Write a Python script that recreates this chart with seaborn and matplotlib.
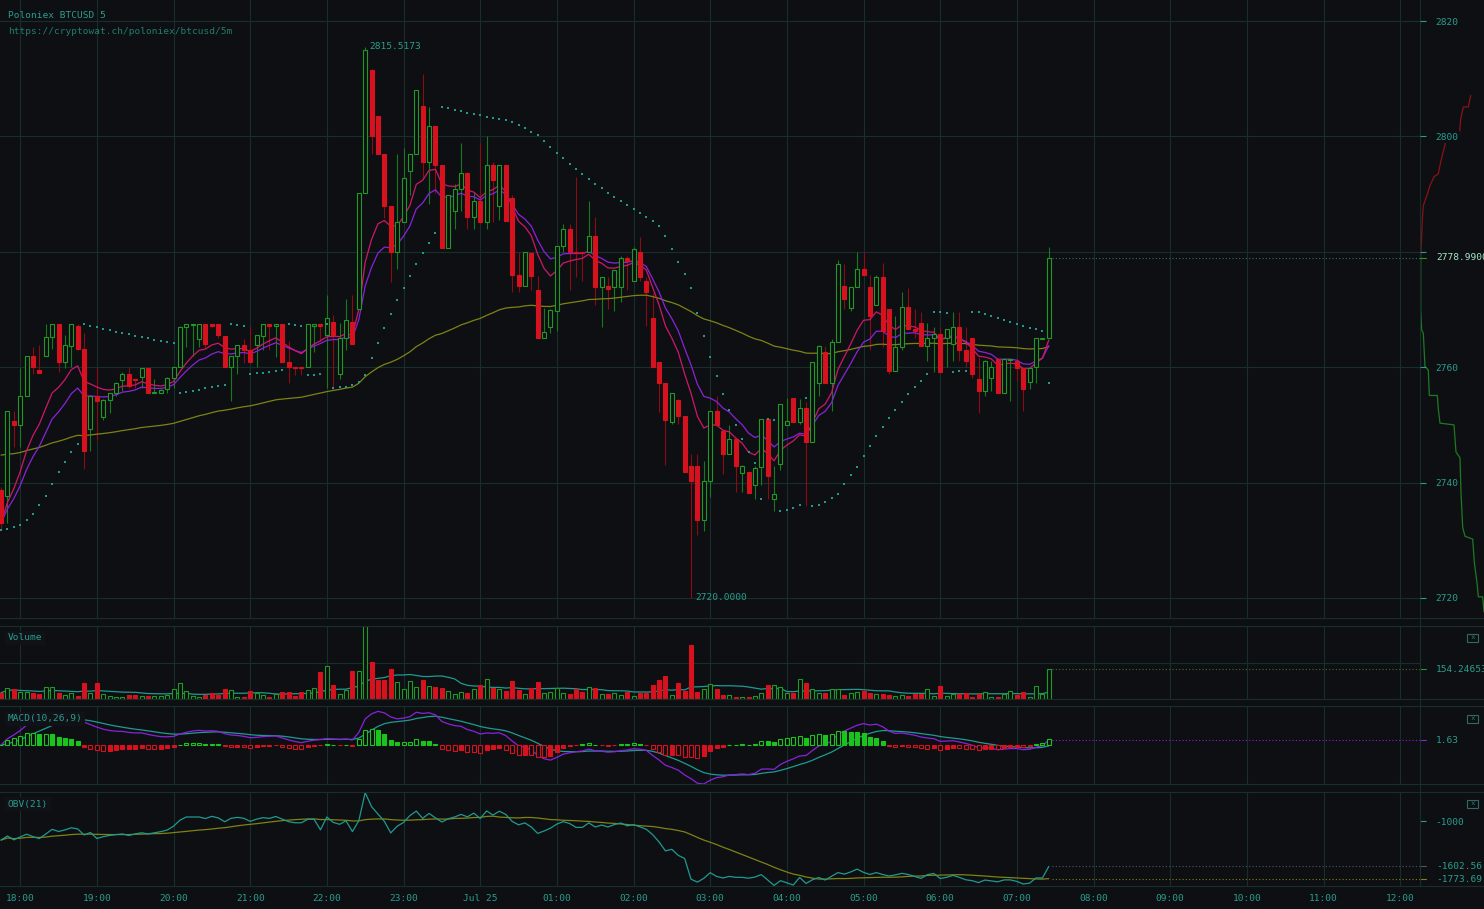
import matplotlib

matplotlib.use("Agg")
import matplotlib.pyplot as plt
import numpy as np
import pandas as pd
import seaborn as sns
from matplotlib.lines import Line2D
from matplotlib.patches import Rectangle

W, H = 1484, 909
BG = "#0e0f13"
GRID = "#15302c"
TEXT = "#2a9d90"
URL_TEXT = "#1f7d70"
GREEN = "#1f9a24"
GREEN_WICK = "#177a1b"
RED = "#d5121e"
RED_WICK = "#8a0d15"
PINK = "#cf176b"
PURPLE = "#8a22dc"
OLIVE = "#7f8214"
TEAL = "#1f9a90"
HIST_GREEN = "#1bc41d"
FS = 6.8

START = "2017-07-24 17:45"

# 5-minute candles, 17:45 -> 07:25
opens = [
    2738.8, 2737.6, 2750.6, 2750.0, 2755.0, 2762.0, 2759.5, 2762.0, 2765.3, 2767.4,
    2760.9, 2763.7, 2767.2, 2763.2, 2749.3, 2755.0, 2751.4, 2754.3, 2755.5, 2757.8,
    2758.9, 2757.9, 2758.3, 2759.9, 2755.5, 2755.6, 2756.2, 2758.1, 2760.0, 2766.9,
    2767.3, 2764.8, 2767.4, 2767.4, 2767.4, 2765.4, 2760.0, 2761.9, 2763.8, 2762.9,
    2763.8, 2765.4, 2767.4, 2767.1, 2767.4, 2760.9, 2760.0, 2760.0, 2760.0, 2767.2,
    2767.4, 2765.5, 2767.9, 2758.9, 2765.1, 2767.9, 2770.0, 2790.2, 2811.5, 2803.5,
    2797.0, 2788.0, 2780.0, 2785.1, 2794.0, 2797.0, 2805.3, 2795.6, 2801.8, 2795.0,
    2780.6, 2787.1, 2790.8, 2793.6, 2786.0, 2788.8, 2785.1, 2795.0, 2788.0, 2795.0,
    2789.4, 2775.9, 2774.1, 2779.8, 2773.4, 2765.1, 2766.9, 2769.7, 2781.0, 2783.9,
    2780.0, 2780.0, 2780.0, 2782.8, 2773.9, 2774.0, 2773.9, 2773.9, 2778.9, 2775.0,
    2780.0, 2775.0, 2768.6, 2760.9, 2757.2, 2750.5, 2754.3, 2751.6, 2742.9, 2742.9,
    2733.6, 2740.3, 2752.4, 2748.9, 2745.0, 2747.5, 2741.7, 2741.9, 2739.6, 2742.7,
    2751.0, 2737.2, 2743.2, 2750.0, 2754.7, 2750.5, 2753.0, 2747.1, 2757.3, 2762.6,
    2757.3, 2764.3, 2774.1, 2770.2, 2773.9, 2777.0, 2773.9, 2770.7, 2775.6, 2770.0,
    2759.4, 2763.5, 2770.5, 2766.7, 2767.7, 2763.6, 2765.1, 2765.7, 2765.1, 2764.0,
    2766.9, 2762.9, 2765.1, 2757.9, 2755.8, 2758.2, 2761.4, 2755.5, 2761.2, 2761.0,
    2759.9, 2757.4, 2760.0, 2764.9, 2765.1,
]
highs = [
    2739.2, 2752.4, 2752.4, 2759.8, 2762.0, 2763.5, 2763.8, 2767.4, 2767.4, 2767.4,
    2765.5, 2767.4, 2767.4, 2766.0, 2755.0, 2760.0, 2754.5, 2755.6, 2757.4, 2759.1,
    2760.0, 2757.9, 2759.9, 2759.9, 2757.9, 2756.2, 2758.3, 2760.0, 2767.2, 2767.4,
    2767.4, 2767.4, 2767.4, 2767.4, 2767.4, 2765.4, 2761.9, 2763.8, 2764.9, 2767.2,
    2765.5, 2767.4, 2767.4, 2767.4, 2767.4, 2764.5, 2760.0, 2760.0, 2767.4, 2767.4,
    2767.4, 2772.5, 2769.0, 2767.6, 2771.8, 2772.5, 2790.2, 2815.5173, 2811.6, 2803.5,
    2797.0, 2788.0, 2796.9, 2798.0, 2797.0, 2808.1, 2810.9, 2805.1, 2801.8, 2795.0,
    2789.8, 2791.7, 2798.8, 2793.6, 2790.2, 2798.9, 2800.0, 2795.5, 2795.0, 2795.0,
    2789.9, 2780.0, 2780.0, 2779.8, 2775.8, 2770.3, 2770.0, 2781.0, 2784.9, 2784.9,
    2793.0, 2780.0, 2788.8, 2786.0, 2775.6, 2775.6, 2776.9, 2779.3, 2779.3, 2780.9,
    2782.6, 2775.6, 2772.8, 2760.9, 2757.2, 2755.6, 2754.5, 2751.6, 2745.0, 2745.0,
    2743.8, 2752.4, 2755.0, 2748.9, 2750.0, 2747.5, 2743.0, 2741.9, 2742.8, 2751.0,
    2751.0, 2742.9, 2753.7, 2754.7, 2754.7, 2754.5, 2753.9, 2760.9, 2763.8, 2763.6,
    2764.9, 2778.5, 2777.9, 2773.9, 2780.0, 2780.0, 2775.9, 2775.9, 2778.1, 2770.0,
    2768.8, 2773.1, 2773.8, 2770.0, 2769.6, 2767.7, 2766.9, 2766.9, 2766.7, 2769.6,
    2769.6, 2766.9, 2765.1, 2761.7, 2761.3, 2761.0, 2761.4, 2761.4, 2761.4, 2761.4,
    2759.9, 2760.0, 2765.1, 2765.1, 2780.9,
]
lows = [
    2731.8, 2733.0, 2746.2, 2746.2, 2755.0, 2758.9, 2759.0, 2762.0, 2763.2, 2759.2,
    2759.9, 2760.0, 2763.0, 2742.4, 2745.5, 2747.3, 2750.9, 2752.0, 2755.0, 2755.8,
    2756.4, 2756.4, 2756.4, 2755.5, 2755.5, 2755.6, 2755.5, 2756.4, 2760.0, 2763.5,
    2762.0, 2763.5, 2763.4, 2767.0, 2765.1, 2760.0, 2754.2, 2758.9, 2760.7, 2760.9,
    2760.0, 2763.0, 2763.0, 2761.7, 2760.9, 2757.2, 2758.6, 2758.6, 2760.0, 2762.6,
    2764.5, 2756.4, 2756.2, 2757.9, 2763.0, 2764.1, 2770.0, 2790.2, 2797.0, 2797.0,
    2785.9, 2774.7, 2777.0, 2785.1, 2789.9, 2797.0, 2792.7, 2788.2, 2790.2, 2780.6,
    2780.6, 2784.0, 2787.1, 2784.0, 2784.0, 2785.1, 2784.0, 2785.2, 2785.5, 2785.4,
    2773.1, 2773.1, 2774.1, 2773.4, 2765.1, 2765.1, 2766.0, 2766.3, 2780.0, 2773.4,
    2775.6, 2775.0, 2780.0, 2770.8, 2766.9, 2770.0, 2769.7, 2771.3, 2773.4, 2775.0,
    2775.0, 2767.2, 2760.0, 2752.2, 2743.1, 2750.2, 2750.2, 2741.9, 2720.0, 2731.0,
    2731.6, 2737.5, 2749.9, 2741.5, 2744.9, 2738.4, 2738.4, 2738.2, 2737.2, 2739.6,
    2737.2, 2735.1, 2742.1, 2750.0, 2750.5, 2750.2, 2735.9, 2747.1, 2755.0, 2757.3,
    2752.4, 2764.3, 2770.0, 2769.7, 2773.9, 2775.9, 2762.9, 2770.7, 2763.5, 2758.9,
    2759.4, 2762.9, 2766.6, 2765.1, 2763.6, 2761.0, 2759.2, 2759.2, 2760.0, 2761.0,
    2761.0, 2760.1, 2758.1, 2752.0, 2755.0, 2755.8, 2755.5, 2755.5, 2754.1, 2757.6,
    2752.4, 2756.2, 2757.3, 2764.8, 2765.1,
]
closes = [
    2733.0, 2752.4, 2749.9, 2755.0, 2762.0, 2760.0, 2759.0, 2765.3, 2767.4, 2760.9,
    2763.8, 2767.4, 2763.2, 2745.5, 2755.0, 2754.2, 2754.3, 2755.5, 2757.2, 2758.9,
    2756.8, 2757.8, 2759.9, 2755.6, 2755.7, 2756.1, 2758.1, 2760.0, 2766.9, 2767.4,
    2767.4, 2767.4, 2764.1, 2767.1, 2765.5, 2760.0, 2761.9, 2763.8, 2762.9, 2760.9,
    2765.5, 2767.4, 2767.1, 2767.4, 2760.9, 2760.0, 2759.9, 2759.9, 2767.4, 2767.4,
    2767.1, 2768.5, 2765.6, 2765.1, 2768.2, 2764.1, 2790.2, 2815.0, 2800.0, 2797.0,
    2788.0, 2780.0, 2785.1, 2792.8, 2797.0, 2808.1, 2795.6, 2801.8, 2795.0, 2780.6,
    2789.8, 2790.8, 2793.6, 2786.0, 2788.8, 2785.1, 2795.0, 2792.4, 2795.0, 2785.4,
    2775.9, 2774.1, 2780.0, 2775.8, 2765.1, 2766.1, 2769.9, 2781.0, 2783.9, 2780.0,
    2779.8, 2779.8, 2782.8, 2773.9, 2775.6, 2773.6, 2776.9, 2778.9, 2778.4, 2780.4,
    2775.7, 2773.0, 2760.0, 2757.2, 2750.8, 2755.6, 2751.6, 2741.9, 2740.3, 2733.6,
    2740.3, 2752.4, 2749.9, 2745.0, 2747.5, 2742.9, 2742.9, 2738.2, 2742.6, 2751.0,
    2741.1, 2738.1, 2753.7, 2750.6, 2750.5, 2753.0, 2747.1, 2760.9, 2763.6, 2757.3,
    2764.3, 2777.9, 2771.9, 2773.9, 2777.0, 2775.9, 2768.8, 2775.6, 2766.3, 2759.3,
    2763.5, 2770.5, 2766.6, 2766.3, 2763.6, 2765.1, 2765.7, 2759.2, 2766.7, 2766.9,
    2762.9, 2761.0, 2758.8, 2755.8, 2761.0, 2760.0, 2755.5, 2761.4, 2761.4, 2759.9,
    2756.2, 2759.9, 2765.1, 2765.1, 2778.99,
]
volumes = [
    32.6, 54.8, 51.4, 37.7, 37.7, 32.6, 25.7, 60.0, 63.4, 29.1,
    20.6, 29.1, 15.4, 80.6, 32.6, 80.6, 25.7, 15.4, 12.0, 8.6,
    20.6, 20.6, 15.4, 15.4, 15.4, 15.4, 20.6, 51.4, 80.6, 42.9,
    15.4, 8.6, 20.6, 29.1, 20.6, 51.4, 46.3, 12.0, 12.0, 41.1,
    29.1, 20.6, 10.3, 25.7, 34.3, 34.3, 15.4, 34.3, 46.3, 54.8,
    140.5, 171.4, 72.0, 25.7, 46.3, 144.0, 145.7, 375.4, 188.5, 97.7,
    97.7, 154.3, 89.1, 49.7, 92.6, 60.0, 97.7, 66.8, 60.0, 54.8,
    42.9, 24.0, 34.3, 32.6, 49.7, 72.0, 101.1, 54.8, 51.4, 42.9,
    92.6, 46.3, 25.7, 54.8, 85.7, 32.6, 37.7, 54.8, 32.6, 25.7,
    51.4, 37.7, 60.0, 54.8, 25.7, 25.7, 32.6, 20.6, 37.7, 15.4,
    29.1, 32.6, 72.0, 97.7, 118.3, 20.6, 80.6, 41.1, 277.7, 37.7,
    49.7, 75.4, 49.7, 20.6, 20.6, 12.0, 12.0, 12.0, 15.4, 32.6,
    72.0, 72.0, 63.4, 29.1, 29.1, 101.1, 80.6, 49.7, 29.1, 32.6,
    49.7, 49.7, 20.6, 29.1, 37.7, 42.9, 29.1, 25.7, 25.7, 20.6,
    15.4, 20.6, 15.4, 25.7, 25.7, 49.7, 15.4, 66.8, 15.4, 25.7,
    25.7, 32.6, 12.0, 25.7, 34.3, 12.0, 12.0, 25.7, 41.1, 20.6,
    34.3, 12.0, 68.6, 25.7, 154.24653,
]

# order book depth (cumulative size, price) shown right of the price axis
ask_depth = [0.7, 2.3, 3.3, 7.3, 10.0, 14.0, 18.3, 20.0, 22.7, 25.0, 25.7, 39.3, 40.7, 43.3, 48.3, 50.7]
ask_price = [2778.99, 2785.5, 2788.0, 2790.0, 2791.5, 2793.0, 2793.5, 2795.0, 2797.0, 2798.5,
             2799.5, 2800.0, 2803.0, 2805.1, 2805.1, 2807.1]
bid_depth = [0.7, 0.7, 1.7, 3.3, 5.0, 8.3, 9.3, 17.3, 18.3, 20.0, 34.0, 36.0, 40.0, 41.0,
             42.7, 45.0, 52.7, 54.3, 57.3, 58.3, 62.7, 64.0]
bid_price = [2778.99, 2769.9, 2766.4, 2765.9, 2760.1, 2759.5, 2755.1, 2755.1, 2752.8, 2750.3,
             2750.0, 2745.3, 2744.3, 2738.2, 2732.2, 2730.7, 2730.2, 2726.2, 2722.2, 2720.2,
             2720.2, 2717.6]

# readouts printed on the right axis, and where the slow average enters the window
LAST_MACD = 1.63
LAST_OBV = -1602.56
LAST_OBV_SMA = -1773.69
SLOW_EMA_START = 2745.0

X_LIM = (-0.16, 222.1)
PRICE_LIM = (2716.53, 2823.64)


def parabolic_sar(high, low, step=0.01, max_step=0.2):
    # on a reversal the SAR restarts at the extreme of the two previous candles
    sar = np.empty(len(high))
    rising, af, ep = True, step, high[0]
    sar[0] = low[0]
    for k in range(1, len(high)):
        prev2 = max(k - 2, 0)
        s = sar[k - 1] + af * (ep - sar[k - 1])
        if rising:
            if low[k] < s:
                rising, s, ep, af = False, max(high[k - 1], high[prev2]), low[k], step
            elif high[k] > ep:
                ep, af = high[k], min(af + step, max_step)
        else:
            if high[k] > s:
                rising, s, ep, af = True, min(low[k - 1], low[prev2]), high[k], step
            elif low[k] < ep:
                ep, af = low[k], min(af + step, max_step)
        sar[k] = s
    return sar


df = pd.DataFrame({"open": opens, "high": highs, "low": lows, "close": closes, "volume": volumes})
df["i"] = np.arange(len(df))
df["up"] = df["close"] >= df["open"]

df["ema10"] = df["close"].ewm(span=10, adjust=False).mean()
df["ema15"] = df["close"].ewm(span=15, adjust=False).mean()
seeded = pd.concat([pd.Series([SLOW_EMA_START]), df["close"]], ignore_index=True)
df["ema100"] = seeded.ewm(span=100, adjust=False).mean().iloc[1:].to_numpy()
df["sar"] = parabolic_sar(df["high"].to_numpy(), df["low"].to_numpy())
df["vol_ma"] = df["volume"].rolling(15, min_periods=1).mean()

df["macd"] = df["close"].ewm(span=10, adjust=False).mean() - df["close"].ewm(span=26, adjust=False).mean()
df["signal"] = df["macd"].ewm(span=9, adjust=False).mean()
df["hist"] = df["macd"] - df["signal"]

flow = (np.sign(df["close"].diff()).fillna(0) * df["volume"]).cumsum()
df["obv"] = flow - flow.iloc[-1] + LAST_OBV
df["obv_sma"] = df["obv"].rolling(21, min_periods=1).mean()

t0 = pd.Timestamp(START)
hours = pd.date_range("2017-07-24 18:00", "2017-07-25 12:00", freq="1h")
hour_pos = (hours - t0) / pd.Timedelta("5min")
hour_labels = ["Jul 25" if h.hour == 0 else h.strftime("%H:%M") for h in hours]

sns.set_theme(style="dark", rc={"axes.facecolor": BG, "figure.facecolor": BG})
plt.rcParams["font.family"] = ["DejaVu Sans Mono"]
plt.rcParams["axes.unicode_minus"] = False

fig = plt.figure(figsize=(W / 100, H / 100), dpi=100, facecolor=BG)


def panel(top, bottom, **kw):
    ax = fig.add_axes([0, 1 - bottom / H, 1420 / W, (bottom - top) / H], **kw)
    ax.set_facecolor(BG)
    for s in ax.spines.values():
        s.set_visible(False)
    ax.set_axisbelow(True)
    return ax


def finish(ax):
    ax.set_xlim(*X_LIM)
    ax.set_xticks(hour_pos)
    ax.grid(axis="x", color=GRID, linewidth=0.8)
    ax.tick_params(axis="x", length=0, labelbottom=False)
    ax.yaxis.tick_right()
    ax.tick_params(axis="y", length=4.3, width=0.8, color=TEXT, labelcolor=TEXT, labelsize=FS, pad=7)
    ax.set_xlabel("")
    ax.set_ylabel("")


def right_label(ax, y, text, color=TEXT, tick=None):
    tr = ax.get_yaxis_transform()
    ax.plot([1, 1 + 6 / 1420], [y, y], transform=tr, color=tick or color, lw=0.8, clip_on=False)
    ax.text(1 + 16 / 1420, y, text, transform=tr, color=color, fontsize=FS, va="center", ha="left",
            clip_on=False, zorder=10, bbox=dict(facecolor=BG, edgecolor="none", pad=1))


def end_line(ax, y, color):
    ax.hlines(y, len(df) - 0.5, X_LIM[1], colors=color, linestyles=(0, (1, 2)), lw=0.8)


def hollow_bars(ax, x, top, bottom, colors, filled):
    face = [c if f else BG for c, f in zip(colors, filled)]
    ax.bar(x, top - bottom, bottom=bottom, width=0.62, color=face, edgecolor=colors, linewidth=0.8, zorder=3)


# ---- price panel
ax = panel(0, 618)
ax.set_zorder(2)
up = df["up"].to_numpy()
ax.vlines(df["i"][up], df["low"][up], df["high"][up], color=GREEN_WICK, lw=0.8, zorder=2)
ax.vlines(df["i"][~up], df["low"][~up], df["high"][~up], color=RED_WICK, lw=0.8, zorder=2)
body_lo = np.minimum(df["open"], df["close"])
body_hi = np.maximum(np.maximum(df["open"], df["close"]), body_lo + 0.15)
hollow_bars(ax, df["i"], body_hi, body_lo, np.where(up, GREEN, RED), ~up)

sns.lineplot(data=df, x="i", y="ema100", ax=ax, color=OLIVE, lw=0.9, estimator=None)
sns.lineplot(data=df, x="i", y="ema15", ax=ax, color=PURPLE, lw=0.9, estimator=None)
sns.lineplot(data=df, x="i", y="ema10", ax=ax, color=PINK, lw=0.9, estimator=None)
sns.scatterplot(data=df, x="i", y="sar", ax=ax, marker="s", s=2.0, color=TEAL, linewidth=0, zorder=4)

ax.set_ylim(*PRICE_LIM)
ax.set_yticks(range(2720, 2821, 20))
ax.set_yticklabels([str(v) if v != 2780 else "" for v in range(2720, 2821, 20)])
ax.grid(axis="y", color=GRID, linewidth=0.8)
finish(ax)
for lbl in ax.get_yticklabels():
    lbl.set_bbox(dict(facecolor=BG, edgecolor="none", pad=1))

hi_i = int(df["high"].idxmax())
lo_i = int(df["low"].idxmin())
ax.annotate(f"{df['high'][hi_i]:.4f}", (hi_i, df["high"][hi_i]), xytext=(4, 0), textcoords="offset pixels",
            color=TEXT, fontsize=FS, va="center")
ax.annotate(f"{df['low'][lo_i]:.4f}", (lo_i, df["low"][lo_i]), xytext=(4, 0), textcoords="offset pixels",
            color=TEXT, fontsize=FS, va="center")
last_close = df["close"].iloc[-1]
end_line(ax, last_close, "#2b7a44")
right_label(ax, last_close, f"{last_close:.4f}", color="#a4e6c8", tick=GREEN)

ax.text(8 / 1420, 1 - 16 / 618, "Poloniex BTCUSD 5", transform=ax.transAxes, color=TEXT, fontsize=FS, va="center")
ax.text(8 / 1420, 1 - 32 / 618, "https://cryptowat.ch/poloniex/btcusd/5m", transform=ax.transAxes,
        color=URL_TEXT, fontsize=FS, va="center")

# ---- order book depth right of the axis
axd = fig.add_axes([1420 / W, 1 - 618 / H, 64 / W, 618 / H])
axd.set_zorder(1)
axd.patch.set_alpha(0)
sns.lineplot(x=ask_depth, y=ask_price, ax=axd, color="#8a1218", lw=0.9, sort=False, estimator=None)
sns.lineplot(x=bid_depth, y=bid_price, ax=axd, color="#1e7a22", lw=0.9, sort=False, estimator=None)
axd.set_xlim(0, 64)
axd.set_ylim(*PRICE_LIM)
axd.axis("off")

# ---- volume panel
axv = panel(626, 699, sharex=ax)
hollow_bars(axv, df["i"], df["volume"], np.zeros(len(df)), np.where(up, GREEN, RED), ~up)
sns.lineplot(data=df, x="i", y="vol_ma", ax=axv, color=TEAL, lw=0.9, estimator=None)
vmax = df["volume"].max()
axv.set_ylim(0, vmax)
axv.set_yticks([vmax / 2])
axv.set_yticklabels([""])
axv.grid(axis="y", color=GRID, linewidth=0.8)
finish(axv)
axv.tick_params(axis="y", length=0)
last_vol = df["volume"].iloc[-1]
end_line(axv, last_vol, "#3f6f2a")
right_label(axv, last_vol, f"{last_vol:.5f}", tick=GREEN)

# ---- MACD panel
axm = panel(706, 784, sharex=ax)
hist = df["hist"].to_numpy()
shrinking = np.abs(hist) < np.abs(np.r_[hist[0], hist[:-1]])
hollow_bars(axm, df["i"], np.maximum(hist, 0), np.minimum(hist, 0),
            np.where(hist >= 0, HIST_GREEN, RED), shrinking)
sns.lineplot(data=df, x="i", y="signal", ax=axm, color=TEAL, lw=0.9, estimator=None)
sns.lineplot(data=df, x="i", y="macd", ax=axm, color=PURPLE, lw=0.9, estimator=None)
m = np.abs(df[["macd", "signal", "hist"]].to_numpy()).max()
axm.set_ylim(-m, m)
axm.set_yticks([])
finish(axm)
end_line(axm, LAST_MACD, PURPLE)
right_label(axm, LAST_MACD, f"{LAST_MACD:.2f}", tick=PURPLE)

# ---- OBV panel
axo = panel(792, 886, sharex=ax)
sns.lineplot(data=df, x="i", y="obv_sma", ax=axo, color=OLIVE, lw=0.9, estimator=None)
sns.lineplot(data=df, x="i", y="obv", ax=axo, color=TEAL, lw=0.9, estimator=None)
lo, hi = df["obv"].min(), df["obv"].max()
axo.set_ylim(lo - 8, hi + 8)
axo.set_yticks([-1000])
axo.set_yticklabels(["-1000"])
finish(axo)
end_line(axo, LAST_OBV, "#4a5a58")
end_line(axo, LAST_OBV_SMA, OLIVE)
right_label(axo, LAST_OBV, f"{LAST_OBV:.2f}", tick="#4a5a58")
right_label(axo, LAST_OBV_SMA, f"{LAST_OBV_SMA:.2f}", tick=OLIVE)
axo.set_xticks(hour_pos)
axo.set_xticklabels(hour_labels)
axo.tick_params(axis="x", labelbottom=True, labelcolor=TEXT, labelsize=FS, pad=6)

# panel titles and close boxes
for title, y in [("Volume", 638), ("MACD(10,26,9)", 719), ("OBV(21)", 804)]:
    fig.text(8 / W, 1 - y / H, title, color=TEXT, fontsize=FS, va="center",
             bbox=dict(facecolor="#101217", edgecolor="none", pad=2))
    fig.add_artist(Rectangle((1467 / W, 1 - (y + 4) / H), 11 / W, 8 / H, transform=fig.transFigure,
                             fill=False, edgecolor="#2a6b66", lw=0.8))
    fig.text(1472.5 / W, 1 - y / H, "×", color="#2a6b66", fontsize=5.5, ha="center", va="center")

# panel borders
for y in [618, 626, 699, 706, 784, 792, 886]:
    fig.add_artist(Line2D([0, 1], [1 - y / H] * 2, transform=fig.transFigure, color=GRID, lw=0.8))
fig.add_artist(Line2D([1420 / W] * 2, [1, 1 - 886 / H], transform=fig.transFigure, color=GRID, lw=0.8))

fig.savefig("out.png", dpi=100, facecolor=BG)
